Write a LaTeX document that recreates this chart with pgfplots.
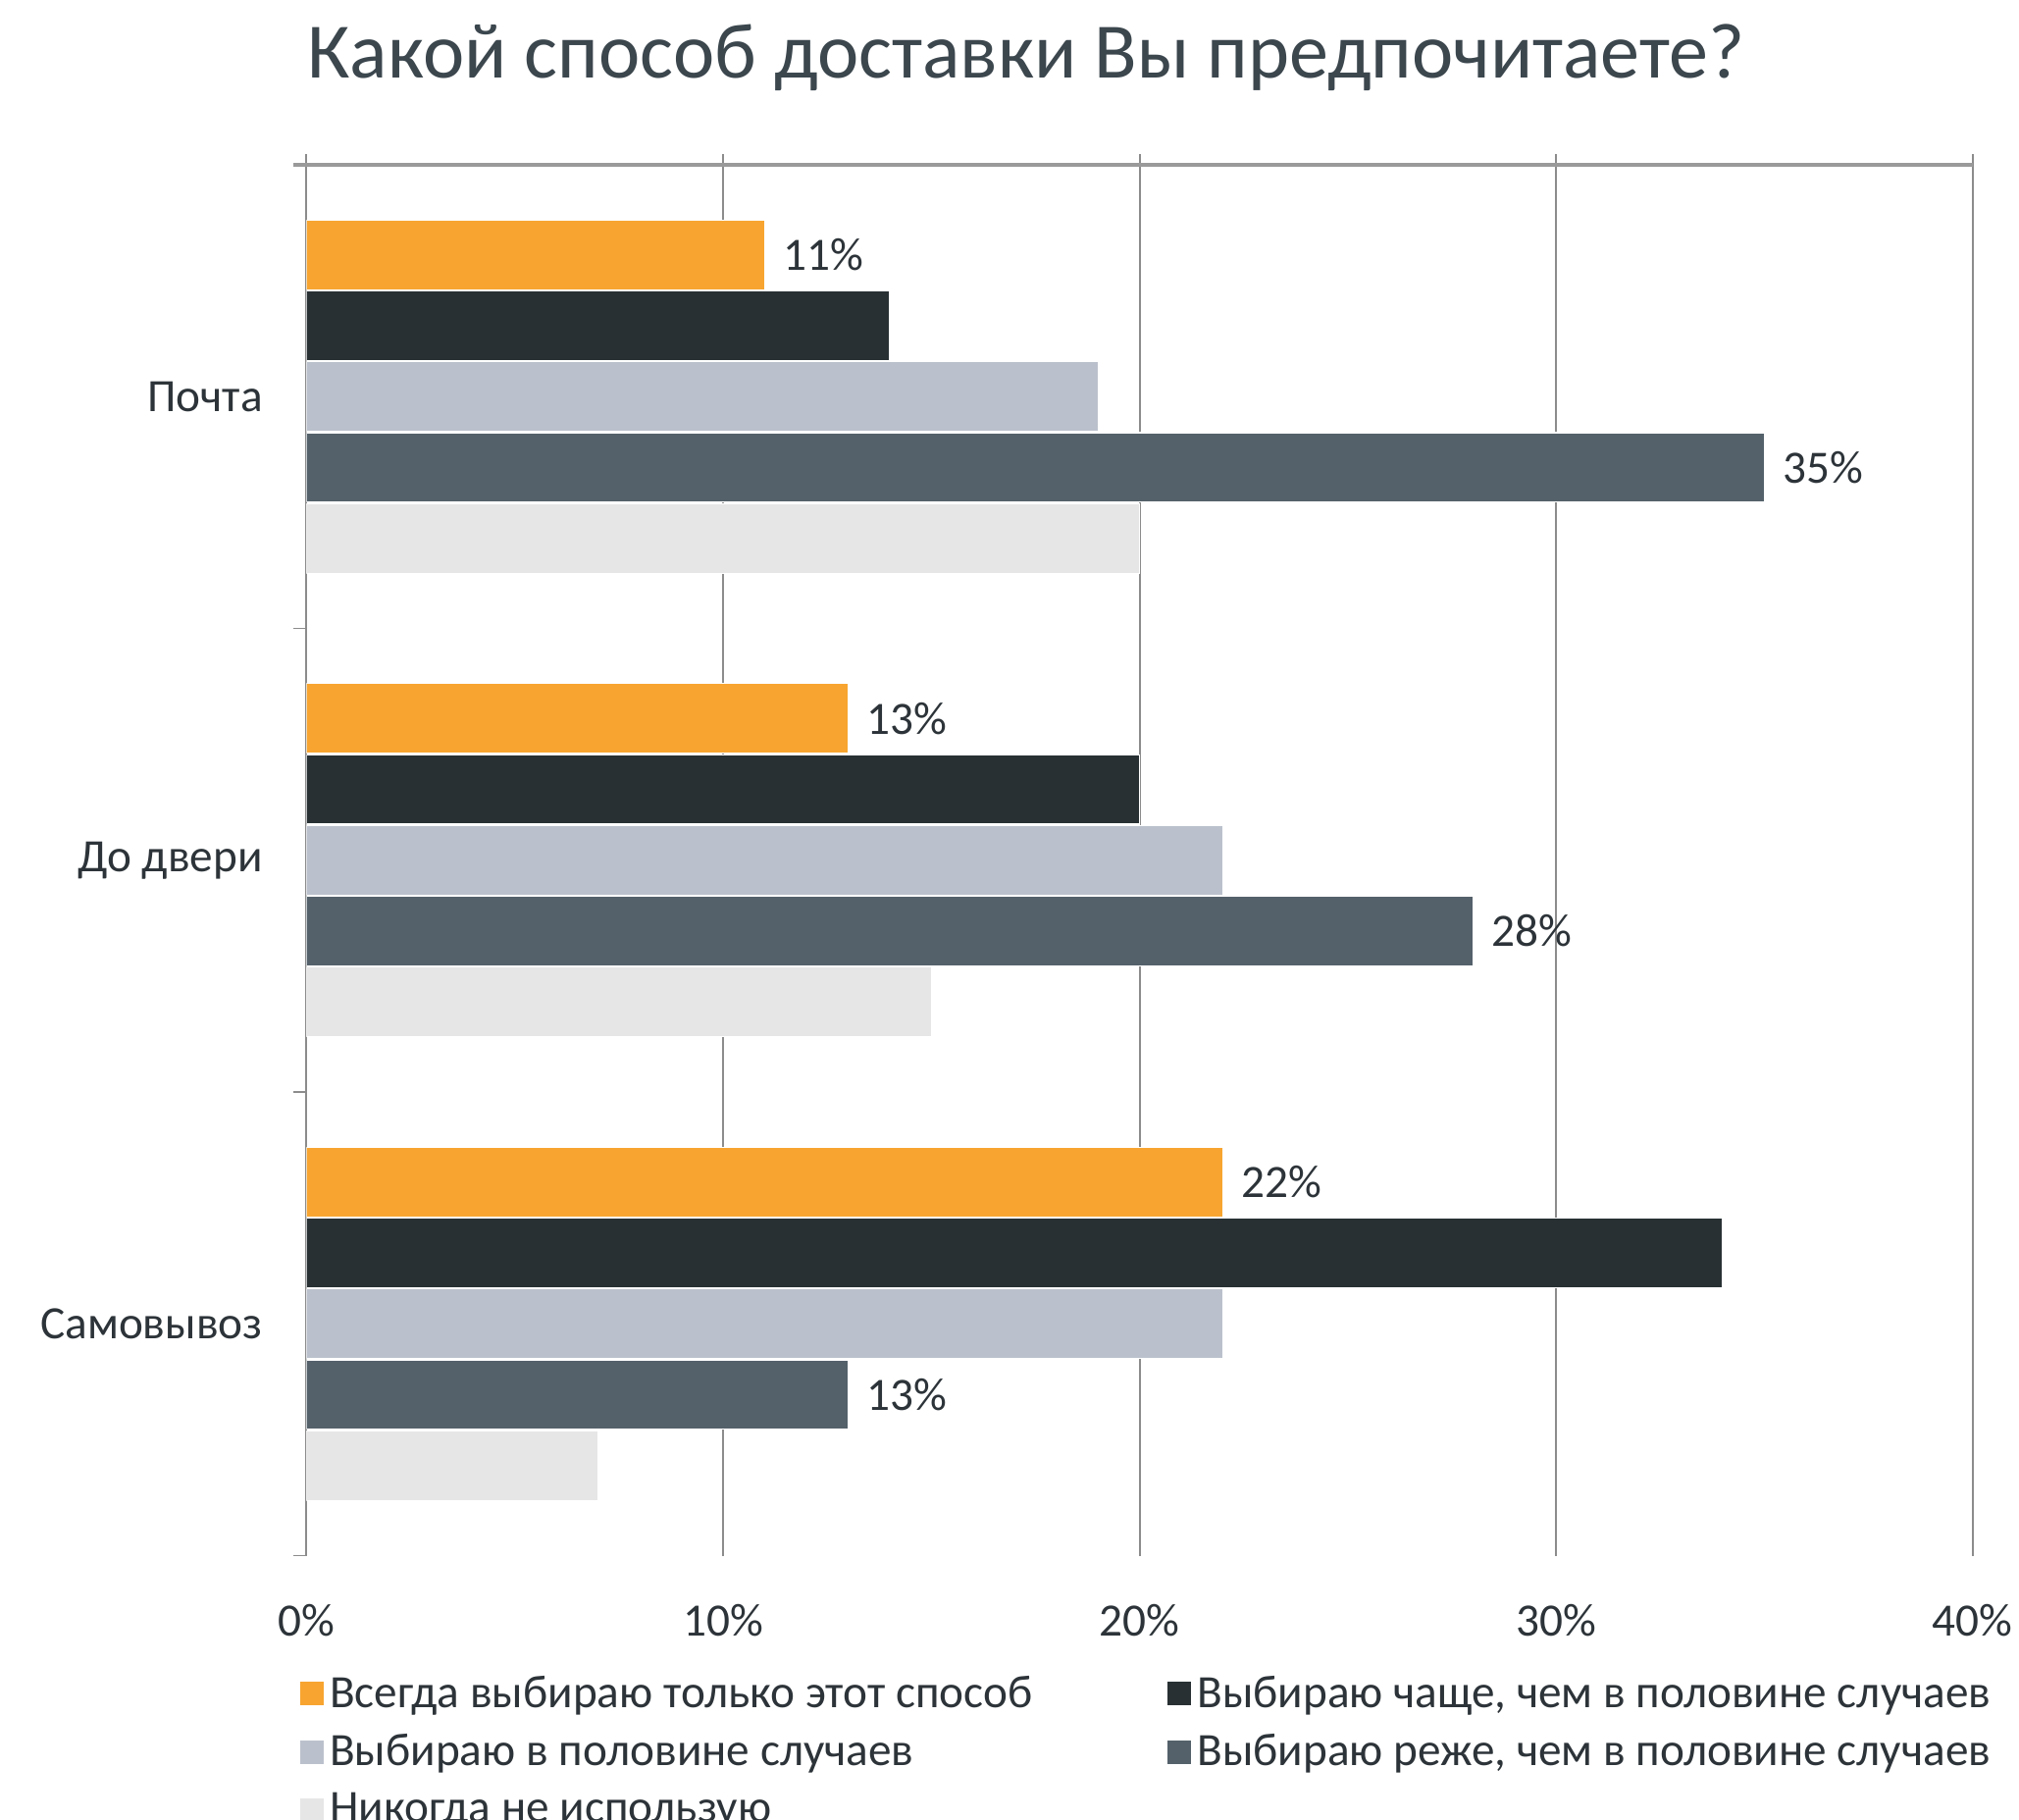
\documentclass[border=0pt]{standalone}
\usepackage{pgfplots}
\pgfplotsset{compat=1.18}
\usepackage{fontspec}
\setmainfont{Carlito}
\definecolor{cOrange}{HTML}{F7A530}
\definecolor{cBlack}{HTML}{283033}
\definecolor{cLight}{HTML}{BBC1CC}
\definecolor{cSlate}{HTML}{54616B}
\definecolor{cPale}{HTML}{E6E6E6}
\definecolor{cText}{HTML}{2D3439}
\definecolor{cTitle}{HTML}{3B464D}
\definecolor{cGrid}{HTML}{8C8C8C}
\definecolor{cAxis}{HTML}{9A9A9A}
\newcommand{\fs}{\fontsize{18}{21}\selectfont}
\begin{document}
\begin{tikzpicture}
\useasboundingbox (-119pt,-102.5pt) rectangle (665pt,604pt);
\begin{axis}[
  at={(0,0)}, anchor=south west,
  scale only axis, width=647pt, height=540pt,
  xbar, bar width=27pt,
  xmin=0, xmax=40, ymin=0.5, ymax=3.5,
  /pgf/number format/assume math mode=true,
  axis line style={draw=none},
  major tick length=4pt,
  xtick={0,10,20,30,40},
  xticklabel={\pgfmathprintnumber{\tick}\%},
  xtick pos=upper, xticklabel pos=lower,
  xtick align=outside,
  x tick style={draw=cGrid, line width=0.75pt},
  xticklabel style={font=\fs, text=cText, yshift=-11.5pt},
  xmajorgrids, grid style={draw=cGrid, line width=0.75pt},
  ytick={1,2,3},
  yticklabels={Самовывоз,До двери,Почта},
  y tick style={draw=none},
  ymajorgrids=false,
  yticklabel style={font=\fs, text=cText, xshift=-9.5pt},
  extra y ticks={0.5,1.5,2.5,3.5},
  extra y tick labels={},
  extra y tick style={ytick pos=left, ytick align=outside, major tick length=5pt, y tick style={draw=cGrid, line width=0.75pt}, grid=none},
  legend columns=2,
  legend cell align=left,
  legend style={at={(0,0)}, anchor=north west, xshift=-6pt, yshift=-42.5pt, draw=none, fill=none, font=\fs, text=cText,
    row sep=5pt,
    /tikz/every even column/.append style={column sep=50pt}},
  legend image code/.code={\fill[#1] (-3pt,-4.7pt) rectangle (6.5pt,4.7pt);},
  nodes near coords style={font=\fs, text=cText, anchor=west, inner sep=0pt, xshift=7pt},
]
\addplot[fill=cOrange, draw=white, line width=0.4pt, bar shift=55pt,
  nodes near coords={\pgfmathprintnumber{\pgfplotspointmeta}\%}]
  coordinates {(11,3) (13,2) (22,1)};
\addlegendentry{Всегда выбираю только этот способ}
\addplot[fill=cBlack, draw=white, line width=0.4pt, bar shift=27.5pt]
  coordinates {(14,3) (20,2) (34,1)};
\addlegendentry{Выбираю чаще, чем в половине случаев}
\addplot[fill=cLight, draw=white, line width=0.4pt, bar shift=0pt]
  coordinates {(19,3) (22,2) (22,1)};
\addlegendentry{Выбираю в половине случаев}
\addplot[fill=cSlate, draw=white, line width=0.4pt, bar shift=-27.5pt,
  nodes near coords={\pgfmathprintnumber{\pgfplotspointmeta}\%}]
  coordinates {(35,3) (28,2) (13,1)};
\addlegendentry{Выбираю реже, чем в половине случаев}
\addplot[fill=cPale, draw=white, line width=0.4pt, bar shift=-55pt]
  coordinates {(20,3) (15,2) (7,1)};
\addlegendentry{Никогда не использую}
\end{axis}
\draw[cAxis, line width=1.2pt] (-5pt,540pt) -- (647pt,540pt);
\node[font=\fontsize{30.5}{35}\selectfont, text=cTitle] at (279.5pt,581.5pt) {Какой способ доставки Вы предпочитаете?};
\end{tikzpicture}
\end{document}
